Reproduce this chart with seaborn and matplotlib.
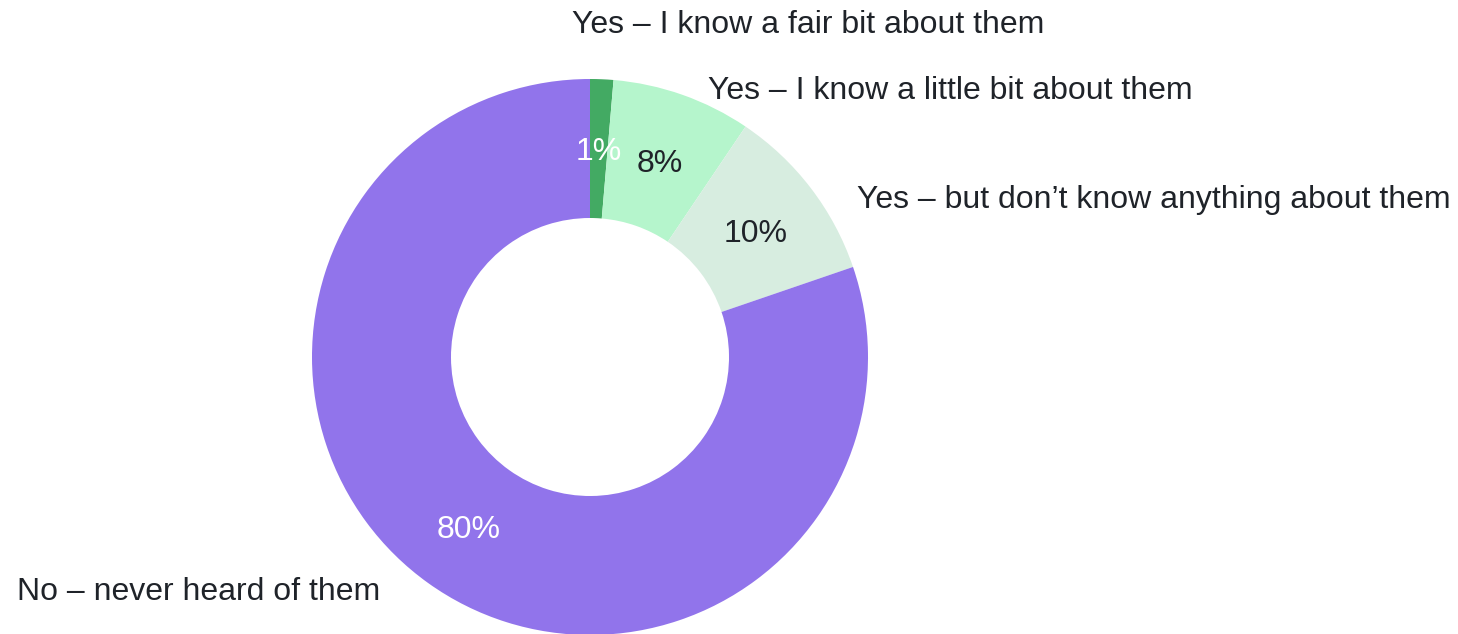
import matplotlib
matplotlib.use("Agg")
import matplotlib.pyplot as plt
import seaborn as sns

# Survey answers, drawn clockwise from 12 o'clock
answers = [
    "Yes – I know a fair bit about them",
    "Yes – I know a little bit about them",
    "Yes – but don’t know anything about them",
    "No – never heard of them",
]
shares = [1.35, 8.1, 10.3, 80.25]

colors = ["#43aa63", "#b5f5cc", "#d7ede0", "#9174eb"]
pct_colors = ["white", "#1f2329", "#1f2329", "white"]

# Where each answer label sits (pie radius = 1) and how it is anchored
label_xy = [(-0.065, 1.165), (0.424, 0.928), (0.960, 0.536), (-0.755, -0.874)]
label_ha = ["left", "left", "left", "right"]

sns.set_theme(style="white")
plt.rcParams["font.family"] = ["Liberation Sans", "DejaVu Sans"]

fig = plt.figure(figsize=(14.58, 6.34), dpi=100)
ax = fig.add_axes([0, 0, 1, 1])

wedges, _, pct_texts = ax.pie(
    shares,
    colors=colors,
    startangle=90,
    counterclock=False,
    radius=1.0,
    autopct="%.0f%%",
    pctdistance=0.75,
    wedgeprops=dict(width=0.5, linewidth=0),
    textprops=dict(fontsize=23),
)
for t, c in zip(pct_texts, pct_colors):
    t.set_color(c)
    t.set_va("center_baseline")

for text, (x, y), ha in zip(answers, label_xy, label_ha):
    ax.text(x, y, text, ha=ha, va="baseline", fontsize=23, color="#1f2329")

ax.set_xlim(-590 / 278, (1458 - 590) / 278)
ax.set_ylim(-(634 - 357) / 278, 357 / 278)
ax.set_aspect("equal")
ax.axis("off")

fig.savefig("out.png", dpi=100)
